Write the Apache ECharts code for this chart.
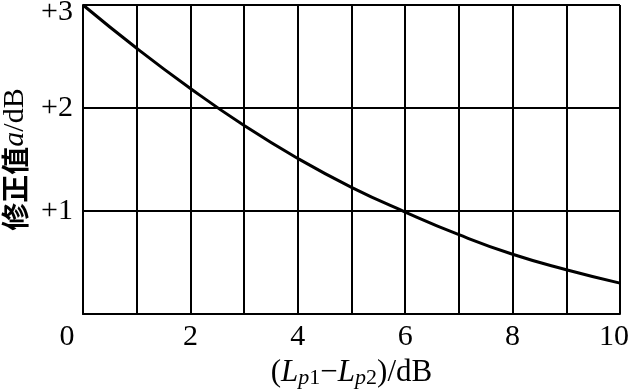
<!DOCTYPE html>
<html>
<head>
<meta charset="utf-8">
<script src="https://cdn.jsdelivr.net/npm/echarts@6/dist/echarts.min.js"></script>
<style>
  html, body { margin: 0; padding: 0; background: #fff; }
  #chart { width: 629px; height: 389px; }
</style>
</head>
<body>
<div id="chart"></div>
<script>
// level difference (dB) and correction value a (dB)
const diffs = [0, 1, 2, 3, 4, 5, 6, 7, 8, 9, 10];
const corrections = [3.0, 2.58, 2.19, 1.83, 1.51, 1.23, 0.99, 0.77, 0.58, 0.43, 0.3];
const xTicks = [0, 2, 4, 6, 8, 10];
const yTicks = ["+1", "+2", "+3"];

const serif = "'Liberation Serif', 'Noto Sans CJK SC', serif";
const dom = document.getElementById("chart");
const myChart = echarts.init(dom);

const option = {
  backgroundColor: "#fff",
  animation: false,
  grid: { left: 83, right: 9, top: 5, bottom: 75, containLabel: false, outerBoundsMode: "none" },
  xAxis: {
    type: "value",
    min: 0,
    max: 10,
    interval: 1,
    name: "{n|(}{i|L}{si|p}{sn|1}{n|−}{i|L}{si|p}{sn|2}{n|)/dB}",
    nameLocation: "middle",
    nameGap: 24,
    nameTextStyle: {
      rich: {
        n: { fontFamily: serif, fontSize: 31, color: "#000", lineHeight: 32 },
        i: { fontFamily: serif, fontSize: 31, fontStyle: "italic", color: "#000", lineHeight: 32 },
        si: { fontFamily: serif, fontSize: 22, fontStyle: "italic", color: "#000", lineHeight: 32, padding: [10, 0, 0, 0] },
        sn: { fontFamily: serif, fontSize: 22, color: "#000", lineHeight: 32, padding: [10, 0, 0, 0] },
      },
    },
    axisLine: { show: true, lineStyle: { color: "#000", width: 2 } },
    axisTick: { show: false },
    axisLabel: {
      margin: 8,
      formatter: (v) => {
        if (!xTicks.includes(v)) return "";
        if (v === 0) return "{z|0}";
        if (v === 10) return "{t|10}";
        return "{d|" + v + "}";
      },
      rich: {
        d: { fontFamily: serif, fontSize: 30, color: "#000" },
        z: { fontFamily: serif, fontSize: 30, color: "#000", padding: [0, 32, 0, 0] },
        t: { fontFamily: serif, fontSize: 30, color: "#000", padding: [0, 12, 0, 0] },
      },
    },
    splitLine: { show: true, lineStyle: { color: "#000", width: 2 } },
  },
  yAxis: {
    type: "value",
    min: 0,
    max: 3,
    interval: 1,
    name: "{c|修正值}{i|a}{n|/dB}",
    nameLocation: "middle",
    nameGap: 50,
    nameRotate: 90,
    nameTextStyle: {
      rich: {
        c: { fontFamily: "'Noto Sans CJK SC'", fontSize: 28, fontWeight: "bold", color: "#000" },
        i: { fontFamily: serif, fontSize: 30, fontStyle: "italic", color: "#000" },
        n: { fontFamily: serif, fontSize: 30, color: "#000" },
      },
    },
    axisLine: { show: true, lineStyle: { color: "#000", width: 2 } },
    axisTick: { show: false },
    axisLabel: {
      margin: 10,
      formatter: (v) => {
        if (v === 0) return "";
        if (v === 3) return "{top|" + yTicks[v - 1] + "}";
        return "{d|" + yTicks[v - 1] + "}";
      },
      rich: {
        d: { fontFamily: serif, fontSize: 30, color: "#000" },
        top: { fontFamily: serif, fontSize: 30, color: "#000", padding: [14, 0, 0, 0] },
      },
    },
    splitLine: { show: true, lineStyle: { color: "#000", width: 2 } },
  },
  series: [
    {
      type: "line",
      data: diffs.map((d, i) => [d, corrections[i]]),
      smooth: 0.5,
      symbol: "none",
      lineStyle: { color: "#000", width: 3 },
    },
  ],
};
myChart.setOption(option);
</script>
</body>
</html>
